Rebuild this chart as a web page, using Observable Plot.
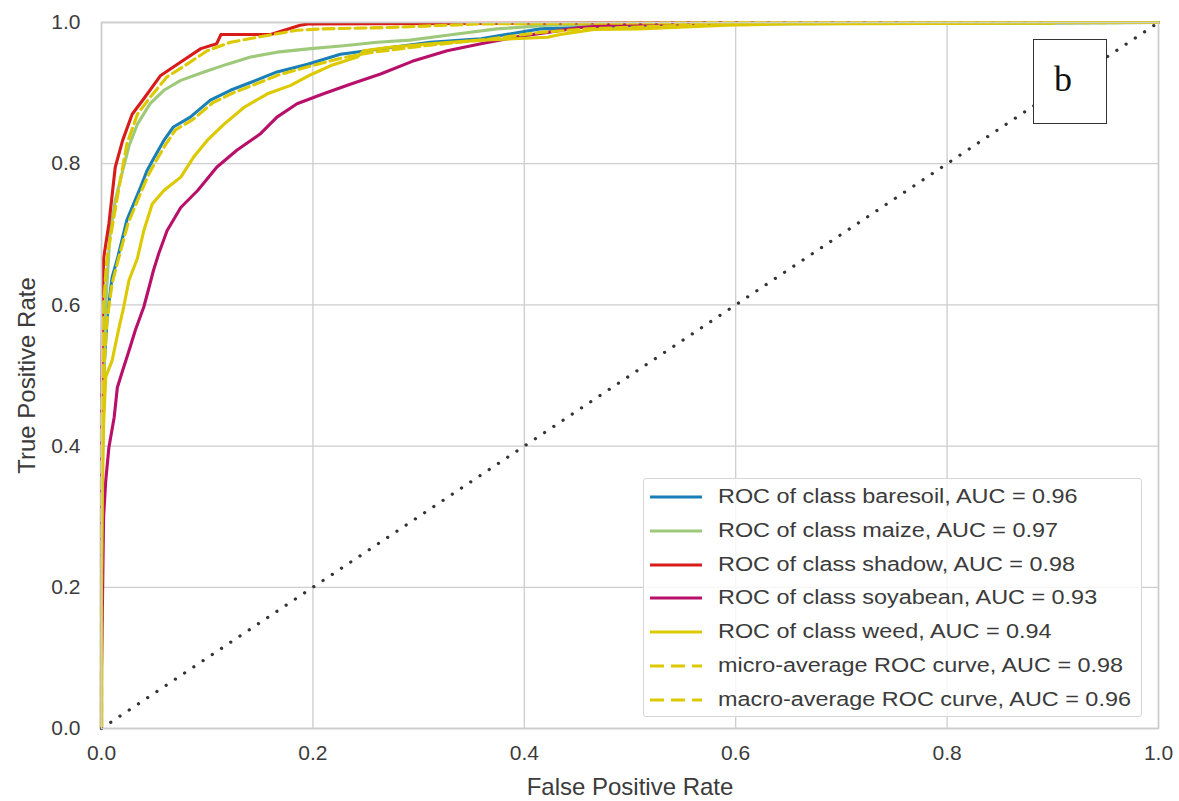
<!DOCTYPE html>
<html>
<head>
<meta charset="utf-8">
<script src="https://cdn.jsdelivr.net/npm/d3@7"></script>
<script src="https://cdn.jsdelivr.net/npm/@observablehq/plot@0.6"></script>
<style>
  html, body { margin: 0; padding: 0; background: #fff; }
  #wrap { position: relative; width: 1179px; height: 801px; overflow: hidden; }
  .roc g[aria-label="x-axis label"], .roc g[aria-label="y-axis label"] { font-size: 24px; }
  #legend {
    position: absolute; left: 643px; top: 478px; width: 499px; height: 239px;
    background: rgba(255,255,255,0.82); border: 1px solid #d6d6d6; border-radius: 3px;
    box-sizing: border-box; font-family: 'Liberation Sans', Arial, sans-serif; color: #3b3b3b;
  }
  .lrow { position: absolute; left: 0; height: 34px; width: 100%; }
  .lrow svg { position: absolute; left: 5px; top: 15px; }
  .lrow span { position: absolute; left: 74px; top: 5px; font-size: 19.5px; line-height: 24px;
    white-space: nowrap; display: inline-block; transform: scaleX(1.2); transform-origin: left center; }
  #panel {
    position: absolute; left: 1033px; top: 39px; width: 74px; height: 85px; box-sizing: border-box;
    border: 1.5px solid #333; background: #fff;
    font-family: 'Liberation Serif', 'Times New Roman', serif; font-size: 36px; color: #111;
  }
  #panel span { position: absolute; left: 20px; top: 21px; line-height: 36px; }
</style>
</head>
<body>
<div id="wrap"></div>
<script>
// ---- data ----
const seriesNames = ["baresoil", "maize", "shadow", "soyabean", "weed", "micro", "macro"];
const legendLabels = [
  "ROC of class baresoil, AUC = 0.96",
  "ROC of class maize, AUC = 0.97",
  "ROC of class shadow, AUC = 0.98",
  "ROC of class soyabean, AUC = 0.93",
  "ROC of class weed, AUC = 0.94",
  "micro-average ROC curve, AUC = 0.98",
  "macro-average ROC curve, AUC = 0.96"
];
const seriesColors = ["#1a7fb6", "#9fc97a", "#d81c1a", "#b8106a", "#dcc900", "#dcc900", "#dcc900"];
const seriesDashed = [false, false, false, false, false, true, true];

const baresoilFpr = [0, 0, 0.002, 0.004, 0.0054, 0.01, 0.015, 0.024, 0.037, 0.043, 0.05, 0.059, 0.068, 0.084, 0.103, 0.122, 0.141, 0.166, 0.195, 0.226, 0.251, 0.311, 0.359, 0.415, 0.453, 0.55, 1];
const baresoilTpr = [0, 0.3, 0.5, 0.55, 0.583, 0.639, 0.665, 0.72, 0.767, 0.79, 0.809, 0.833, 0.852, 0.866, 0.89, 0.904, 0.915, 0.93, 0.941, 0.955, 0.96, 0.972, 0.977, 0.991, 0.993, 0.998, 1];

const maizeFpr = [0, 0, 0.004, 0.008, 0.013, 0.02, 0.026, 0.034, 0.046, 0.059, 0.075, 0.097, 0.119, 0.141, 0.166, 0.198, 0.229, 0.261, 0.292, 0.327, 0.374, 0.422, 0.484, 1];
const maizeTpr = [0, 0.35, 0.6, 0.7, 0.748, 0.79, 0.825, 0.856, 0.885, 0.904, 0.918, 0.93, 0.941, 0.951, 0.958, 0.963, 0.967, 0.972, 0.975, 0.982, 0.991, 0.996, 0.998, 1];

const shadowFpr = [0, 0, 0.001, 0.002, 0.007, 0.013, 0.02, 0.029, 0.04, 0.056, 0.075, 0.094, 0.109, 0.113, 0.16, 0.188, 0.195, 0.6, 1];
const shadowTpr = [0, 0.45, 0.6, 0.666, 0.715, 0.795, 0.833, 0.87, 0.892, 0.925, 0.944, 0.963, 0.97, 0.983, 0.983, 0.996, 0.998, 1, 1];

const soyabeanFpr = [0, 0, 0.002, 0.004, 0.007, 0.012, 0.015, 0.02, 0.026, 0.032, 0.04, 0.045, 0.049, 0.054, 0.062, 0.075, 0.091, 0.109, 0.128, 0.15, 0.166, 0.185, 0.21, 0.236, 0.264, 0.294, 0.327, 0.359, 0.39, 0.422, 0.453, 0.484, 0.548, 0.65, 1];
const soyabeanTpr = [0, 0.078, 0.3, 0.351, 0.398, 0.441, 0.483, 0.507, 0.535, 0.564, 0.597, 0.625, 0.648, 0.672, 0.705, 0.738, 0.762, 0.795, 0.819, 0.842, 0.866, 0.885, 0.899, 0.913, 0.927, 0.945, 0.96, 0.97, 0.979, 0.986, 0.993, 0.996, 0.998, 1, 1];

const weedFpr = [0, 0, 0.001, 0.002, 0.004, 0.01, 0.016, 0.021, 0.026, 0.034, 0.04, 0.048, 0.059, 0.075, 0.087, 0.1, 0.116, 0.135, 0.157, 0.179, 0.198, 0.217, 0.242, 0.248, 0.273, 0.311, 0.359, 0.422, 0.434, 0.466, 0.507, 0.592, 0.65, 0.9, 0.9, 1];
const weedTpr = [0, 0.2, 0.347, 0.43, 0.498, 0.521, 0.564, 0.597, 0.635, 0.666, 0.705, 0.743, 0.762, 0.781, 0.809, 0.833, 0.856, 0.88, 0.899, 0.911, 0.926, 0.939, 0.951, 0.96, 0.965, 0.97, 0.975, 0.979, 0.983, 0.99, 0.991, 0.996, 0.998, 0.999, 1, 1];

const microFpr = [0, 0, 0.002, 0.005, 0.015, 0.024, 0.034, 0.046, 0.062, 0.081, 0.1, 0.122, 0.147, 0.166, 0.185, 0.21, 0.273, 0.36, 0.6, 1];
const microTpr = [0, 0.45, 0.6, 0.665, 0.753, 0.828, 0.87, 0.894, 0.923, 0.941, 0.96, 0.972, 0.979, 0.984, 0.989, 0.991, 0.993, 0.998, 1, 1];

const macroFpr = [0, 0, 0.002, 0.005, 0.01, 0.016, 0.025, 0.038, 0.045, 0.052, 0.061, 0.07, 0.086, 0.105, 0.124, 0.143, 0.168, 0.197, 0.228, 0.253, 0.311, 0.36, 0.415, 0.46, 0.55, 0.6, 1];
const macroTpr = [0, 0.3, 0.5, 0.575, 0.63, 0.665, 0.715, 0.762, 0.786, 0.805, 0.828, 0.848, 0.862, 0.886, 0.9, 0.911, 0.926, 0.938, 0.95, 0.957, 0.968, 0.975, 0.986, 0.991, 0.996, 0.999, 1];

const chanceFpr = [0, 1];
const chanceTpr = [0, 1];
const tickValues = [0, 0.2, 0.4, 0.6, 0.8, 1.0];
const panelLetter = "b";

// ---- build tables ----
const fprs = [baresoilFpr, maizeFpr, shadowFpr, soyabeanFpr, weedFpr, microFpr, macroFpr];
const tprs = [baresoilTpr, maizeTpr, shadowTpr, soyabeanTpr, weedTpr, microTpr, macroTpr];
const tables = seriesNames.map((name, i) => fprs[i].map((f, j) => ({series: name, fpr: f, tpr: tprs[i][j]})));
const chance = chanceFpr.map((f, j) => ({fpr: f, tpr: chanceTpr[j]}));

const lineMarks = tables.map((t, i) => Plot.line(t, {
  x: "fpr", y: "tpr", stroke: seriesColors[i], strokeWidth: 3.1,
  strokeDasharray: seriesDashed[i] ? "11,5" : null, curve: "linear"
}));

const chart = Plot.plot({
  className: "roc",
  width: 1179, height: 801,
  marginLeft: 101, marginRight: 21, marginTop: 22, marginBottom: 73,
  x: {domain: [0, 1]},
  y: {domain: [0, 1]},
  style: {fontFamily: "'Liberation Sans', Arial, sans-serif", fontSize: "21px", color: "#3b3b3b", background: "#fff"},
  marks: [
    Plot.gridX(tickValues, {stroke: "#cdcdcd", strokeOpacity: 1, strokeWidth: 1.3}),
    Plot.gridY(tickValues, {stroke: "#cdcdcd", strokeOpacity: 1, strokeWidth: 1.3}),
    Plot.axisX(tickValues, {tickSize: 0, tickPadding: 17, tickFormat: d => d.toFixed(1),
      label: "False Positive Rate", labelAnchor: "center", labelArrow: "none", labelOffset: 66}),
    Plot.axisY(tickValues, {tickSize: 0, tickPadding: 21, tickFormat: d => d.toFixed(1),
      label: "True Positive Rate", labelAnchor: "center", labelArrow: "none", labelOffset: 84}),
    ...lineMarks,
    Plot.line(chance, {x: "fpr", y: "tpr", stroke: "#333", strokeWidth: 3.2, strokeLinecap: "round", strokeDasharray: "0.1,11"}),
    Plot.frame({stroke: "#cdcdcd", strokeWidth: 1.6})
  ]
});

const wrap = document.getElementById("wrap");
wrap.appendChild(chart);

// legend
const legend = document.createElement("div");
legend.id = "legend";
legendLabels.forEach((lab, i) => {
  const row = document.createElement("div");
  row.className = "lrow";
  row.style.top = (i * 33.8) + "px";
  const dash = seriesDashed[i] ? ' stroke-dasharray="14 7"' : '';
  row.innerHTML = `<svg width="56" height="6"><line x1="1" y1="3" x2="53" y2="3" stroke="${seriesColors[i]}" stroke-width="3.2"${dash}/></svg><span>${lab}</span>`;
  legend.appendChild(row);
});
wrap.appendChild(legend);

// panel letter
const panel = document.createElement("div");
panel.id = "panel";
panel.innerHTML = `<span>${panelLetter}</span>`;
wrap.appendChild(panel);
</script>
</body>
</html>
